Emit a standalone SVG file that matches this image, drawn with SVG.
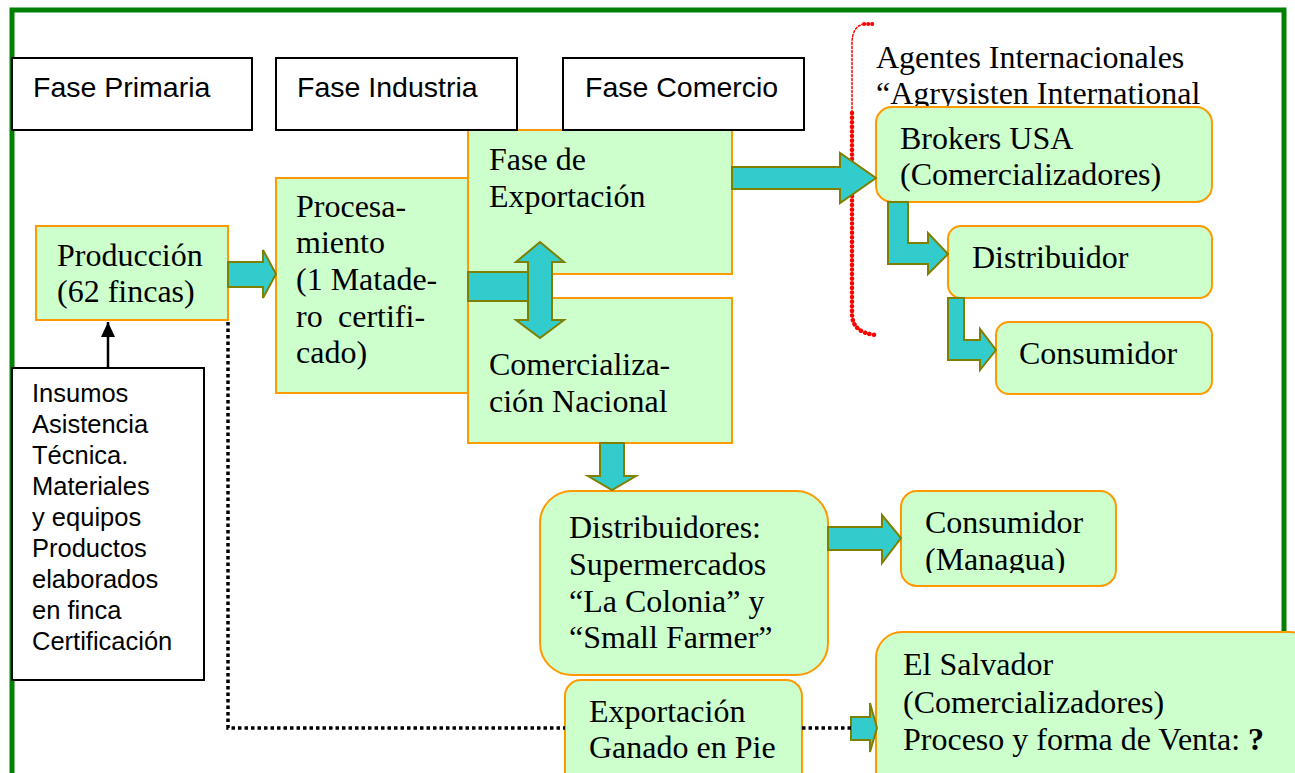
<svg xmlns="http://www.w3.org/2000/svg" width="1295" height="773" viewBox="0 0 1295 773">
<defs>
<style>
.box{fill:#CCFFCC;stroke:#FF9900;stroke-width:2}
.phase{fill:#FFFFFF;stroke:#000;stroke-width:2}
.ser{font-family:"Liberation Serif","Times New Roman",serif;font-size:32px;fill:#000}
.sans{font-family:"Liberation Sans",Arial,sans-serif;fill:#000}
.ar{fill:#33CCCC;stroke:#808000;stroke-width:2;stroke-linejoin:miter}
</style>
<clipPath id="clipMan"><rect x="900" y="490" width="220" height="83"/></clipPath>
<marker id="blk" markerWidth="16" markerHeight="14" refX="15" refY="7" orient="auto" markerUnits="userSpaceOnUse"><path d="M0,0 L15,7 L0,14 Z" fill="#000"/></marker>
</defs>
<rect width="1295" height="773" fill="#FFFFFF"/>
<rect id="frame" x="12" y="10" width="1272" height="800" fill="none" stroke="#008000" stroke-width="5"/>

<g id="bracket" fill="none" stroke="#FF0000" stroke-linecap="round">
<path d="M864,24 L876,24" stroke-width="4" stroke-dasharray="0.1 4"/>
<path d="M864,24 Q852,26 852,44 L852,113" stroke-width="1.5" stroke-dasharray="2 2"/>
<path d="M852,113 L852,315 Q853,333 876,335" stroke-width="4.5" stroke-dasharray="0.1 4.5"/>
</g>
<g id="agentes">
<text class="ser" x="876" y="68">Agentes Internacionales</text>
<text class="ser" x="876" y="104">“Agrysisten International</text>
</g>

<g id="procesamiento">
<rect class="box" x="276" y="178" width="200" height="215"/>
<text class="ser" x="296" y="217">Procesa-</text>
<text class="ser" x="296" y="253">miento</text>
<text class="ser" x="296" y="290">(1 Matade-</text>
<text class="ser" y="327"><tspan x="296">ro</tspan><tspan x="338">certifi-</tspan></text>
<text class="ser" x="296" y="363">cado)</text>
</g>
<g id="exportacion">
<rect class="box" x="468" y="130" width="264" height="144"/>
<text class="ser" x="489" y="170">Fase de</text>
<text class="ser" x="489" y="207">Exportación</text>
</g>
<g id="comercializacion">
<rect class="box" x="468" y="298" width="264" height="145"/>
<text class="ser" x="489" y="375">Comercializa-</text>
<text class="ser" x="489" y="412">ción Nacional</text>
</g>

<g id="fase-primaria">
<rect class="phase" x="12" y="58" width="240" height="72"/>
<text class="sans" x="33" y="97" font-size="28.5">Fase Primaria</text>
</g>
<g id="fase-industria">
<rect class="phase" x="276" y="58" width="241" height="72"/>
<text class="sans" x="297" y="97" font-size="28.5">Fase Industria</text>
</g>
<g id="fase-comercio">
<rect class="phase" x="563" y="58" width="241" height="72"/>
<text class="sans" x="585" y="97" font-size="28.5">Fase Comercio</text>
</g>

<g id="produccion">
<rect class="box" x="36" y="226" width="192" height="94"/>
<text class="ser" x="57" y="266">Producción</text>
<text class="ser" x="57" y="302">(62 fincas)</text>
</g>

<g id="insumos">
<rect class="phase" x="12" y="368" width="192" height="312"/>
<g class="sans" font-size="25.5">
<text x="32" y="402">Insumos</text>
<text x="32" y="433">Asistencia</text>
<text x="32" y="464">Técnica.</text>
<text x="32" y="495">Materiales</text>
<text x="32" y="526">y equipos</text>
<text x="32" y="557">Productos</text>
<text x="32" y="588">elaborados</text>
<text x="32" y="619">en finca</text>
<text x="32" y="650">Certificación</text>
</g>
</g>

<g id="brokers">
<rect class="box" x="876" y="107" width="336" height="95" rx="16"/>
<text class="ser" x="900" y="149">Brokers USA</text>
<text class="ser" x="900" y="185">(Comercializadores)</text>
</g>
<g id="distribuidor">
<rect class="box" x="948" y="226" width="264" height="72" rx="13"/>
<text class="ser" x="972" y="268">Distribuidor</text>
</g>
<g id="consumidor-usa">
<rect class="box" x="996" y="322" width="216" height="72" rx="13"/>
<text class="ser" x="1019" y="364">Consumidor</text>
</g>

<g id="distribuidores">
<rect class="box" x="540" y="491" width="288" height="184" rx="32"/>
<text class="ser" x="569" y="538">Distribuidores:</text>
<text class="ser" x="569" y="575">Supermercados</text>
<text class="ser" x="569" y="612">“La Colonia” y</text>
<text class="ser" x="569" y="648">“Small Farmer”</text>
</g>
<g id="consumidor-managua">
<rect class="box" x="901" y="491" width="215" height="95" rx="16"/>
<g clip-path="url(#clipMan)">
<text class="ser" x="925" y="533">Consumidor</text>
<text class="ser" x="925" y="570">(Managua)</text>
</g>
</g>
<g id="exportacion-ganado">
<rect class="box" x="565" y="680" width="237" height="110" rx="16"/>
<text class="ser" x="589" y="722">Exportación</text>
<text class="ser" x="589" y="758">Ganado en Pie</text>
</g>
<g id="el-salvador">
<rect class="box" x="876" y="632" width="440" height="170" rx="26"/>
<text class="ser" x="903" y="675">El Salvador</text>
<text class="ser" x="903" y="713">(Comercializadores)</text>
<text class="ser" x="903" y="750">Proceso y forma de Venta: <tspan font-weight="bold">?</tspan></text>
</g>

<g id="connectors">
<path class="ar" d="M228,262 L263,262 L263,250 L276,274 L263,298 L263,287 L228,287 Z"/>
<rect class="ar" x="468" y="272" width="60" height="29"/>
<path class="ar" d="M540,242 L564,262 L552,262 L552,320 L564,320 L540,338 L516,320 L528,320 L528,262 L516,262 Z"/>
<path class="ar" d="M732,167 L840,167 L840,153 L876,178 L840,203 L840,189 L732,189 Z"/>
<path class="ar" d="M888,202 L908,202 L908,243 L928,243 L928,233 L948,254 L928,274 L928,264 L888,264 Z"/>
<path class="ar" d="M948,298 L964,298 L964,340 L980,340 L980,329 L996,350 L980,370 L980,360 L948,360 Z"/>
<path class="ar" d="M600,443 L624,443 L624,476 L636,476 L612,490 L588,476 L600,476 Z"/>
<path class="ar" d="M828,527 L882,527 L882,515 L901,538 L882,563 L882,550 L828,550 Z"/>
<path class="ar" d="M851,717 L870,717 L870,703 L877,728 L870,752 L870,740 L851,740 Z"/>
<path d="M228,322 L228,728 L565,728 M802,728 L851,728" fill="none" stroke="#000" stroke-width="3.5" stroke-dasharray="3.5 3"/>
<line x1="108" y1="367" x2="108" y2="322" stroke="#000" stroke-width="2.5" marker-end="url(#blk)"/>
</g>
</svg>
